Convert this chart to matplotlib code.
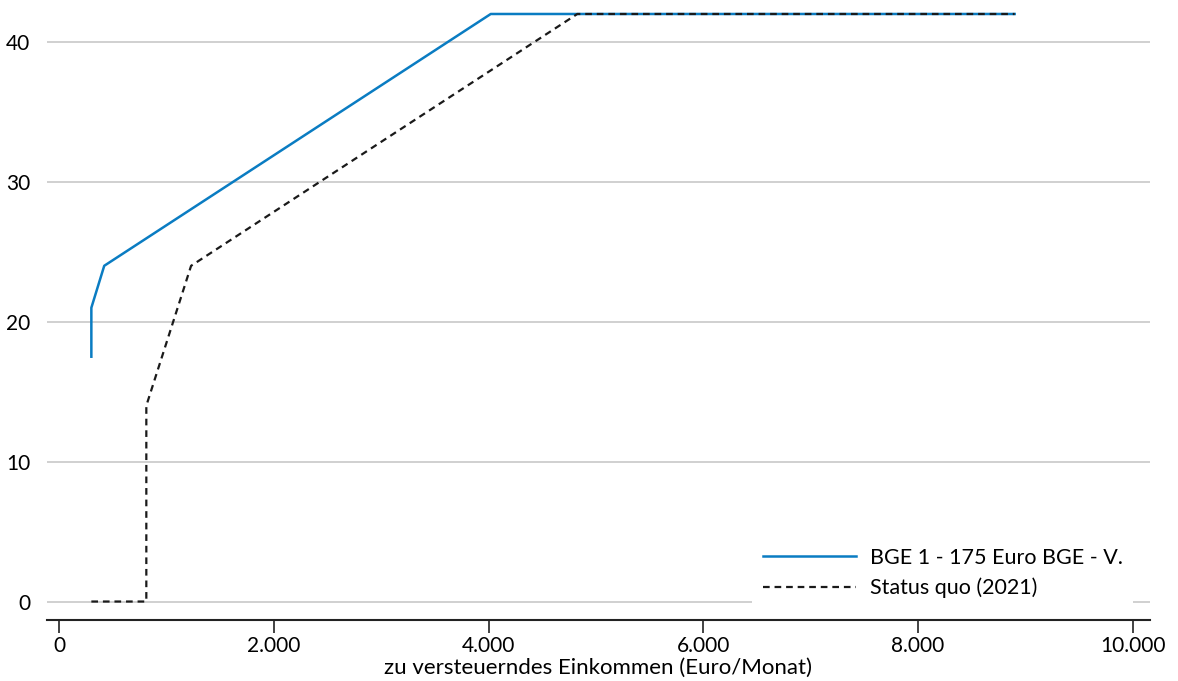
import matplotlib
matplotlib.use('Agg')
import matplotlib.pyplot as plt

plt.rcParams['font.family'] = ['Lato', 'DejaVu Sans']

# Income in Euro/Monat, marginal rate in percent
bge_x = [300, 300, 420, 4020, 8900]
bge_y = [17.5, 21, 24, 42, 42]

sq_x = [300, 812, 812, 1229, 4826, 8900]
sq_y = [0, 0, 14, 24, 42, 42]

x_ticks = [0, 2000, 4000, 6000, 8000, 10000]
x_labels = ['0', '2.000', '4.000', '6.000', '8.000', '10.000']
y_ticks = [0, 10, 20, 30, 40]

fig = plt.figure(figsize=(11.78, 6.81), dpi=100)
ax = fig.add_axes([0.040, 0.090, 0.936, 0.910])

ax.plot(bge_x, bge_y, color='#0a7cc2', linewidth=1.8,
        label='BGE 1 - 175 Euro BGE - V.', clip_on=False, zorder=3)
ax.plot(sq_x, sq_y, color='#1a1a1a', linewidth=1.6, linestyle=(0, (3, 2.2)),
        label='Status quo (2021)', clip_on=False, zorder=4)

ax.set_xlim(-112, 10158)
ax.set_ylim(-1.3, 43)
ax.set_xticks(x_ticks)
ax.set_xticklabels(x_labels)
ax.set_yticks(y_ticks)

ax.grid(axis='y', color='#c8c8c8', linewidth=1.2)
ax.set_axisbelow(True)
for s in ['top', 'right', 'left']:
    ax.spines[s].set_visible(False)
ax.spines['bottom'].set_linewidth(1.5)
ax.spines['bottom'].set_color('#222222')

ax.tick_params(axis='y', length=0, labelsize=15, pad=12)
ax.tick_params(axis='x', length=9, width=1.2, labelsize=15, pad=3, color='#222222')

ax.set_xlabel('zu versteuerndes Einkommen (Euro/Monat)', fontsize=16, labelpad=1)

leg = ax.legend(loc='lower right', bbox_to_anchor=(0.995, 0.0), fontsize=15.5,
                frameon=True, facecolor='white', edgecolor='none', framealpha=1,
                handlelength=4.3, handletextpad=0.65, borderpad=0.5,
                labelspacing=0.45, fancybox=False)
leg.set_zorder(5)

fig.savefig('out.png', dpi=100)
